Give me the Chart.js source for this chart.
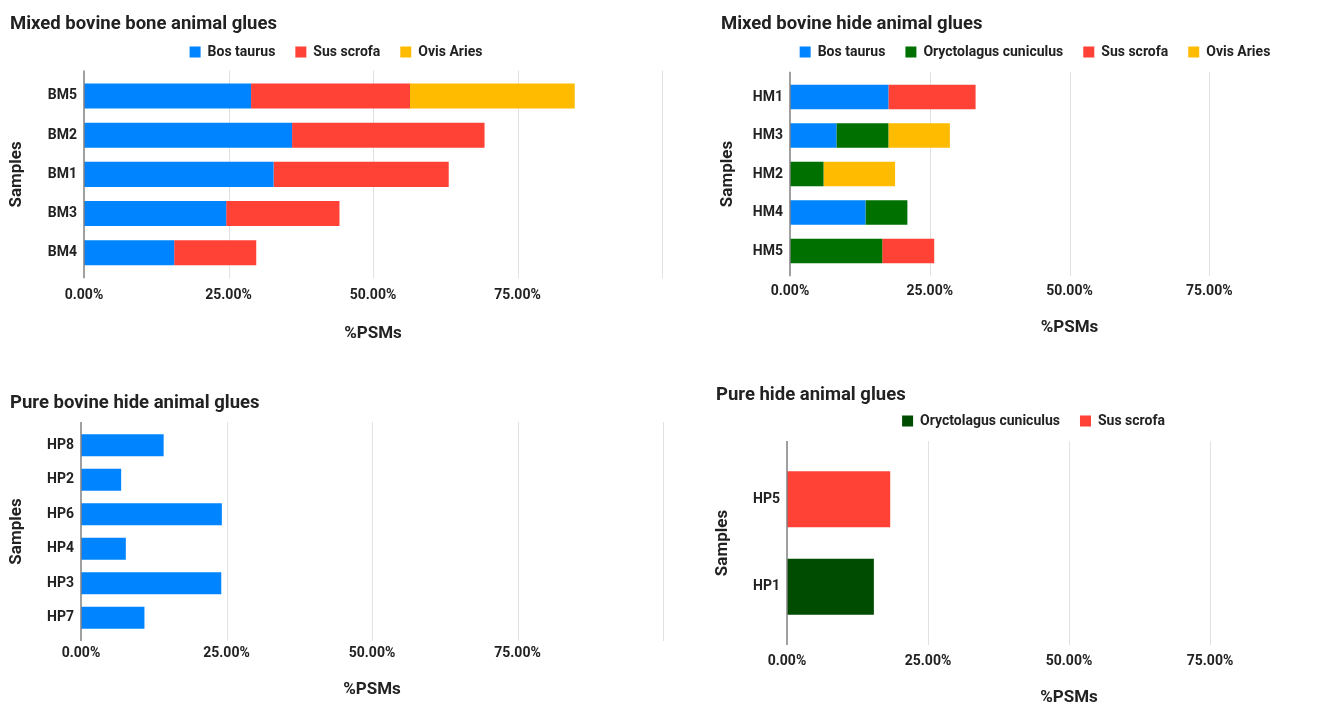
<!DOCTYPE html>
<html>
<head>
<meta charset="utf-8">
<script src="https://cdn.jsdelivr.net/npm/chart.js@4.4.1/dist/chart.umd.min.js"></script>
<style>
  html, body { margin: 0; padding: 0; background: #fff; overflow: hidden; width: 1342px; height: 702px; }
  canvas { position: absolute; }
</style>
</head>
<body>
<canvas id="bmChart" width="670" height="341" style="left:0;top:0"></canvas>
<canvas id="hmChart" width="670" height="336" style="left:700px;top:0"></canvas>
<canvas id="hpBosChart" width="670" height="318" style="left:0;top:380px"></canvas>
<canvas id="hpOtherChart" width="668" height="327" style="left:700px;top:380px"></canvas>
<script>
// %PSMs per sample
const bmSamples = ["BM5", "BM2", "BM1", "BM3", "BM4"];
const bmBosTaurus = [28.9, 36.0, 32.8, 24.6, 15.6];
const bmSusScrofa = [27.5, 33.3, 30.3, 19.6, 14.2];
const bmOvisAries = [28.5, null, null, null, null];

const hmSamples = ["HM1", "HM3", "HM2", "HM4", "HM5"];
const hmBosTaurus = [17.6, 8.3, null, 13.5, null];
const hmOryctolagus = [null, 9.3, 6.0, 7.5, 16.5];
const hmSusScrofa = [15.6, null, null, null, 9.3];
const hmOvisAries = [null, 11.0, 12.8, null, null];

const hpBosSamples = ["HP8", "HP2", "HP6", "HP4", "HP3", "HP7"];
const hpBosTaurus = [14.2, 6.9, 24.2, 7.7, 24.1, 10.9];

const hpOtherSamples = ["HP5", "HP1"];
const hpOryctolagus = [null, 15.4];
const hpSusScrofa = [18.3, null];

const xTickLabels = ["0.00%", "25.00%", "50.00%", "75.00%", ""];

const BLUE = "#0084ff", RED = "#ff4136", YELLOW = "#ffbb00", GREEN = "#007000", DARK_GREEN = "#004c00";
const FONT = "Roboto";
const TEXT = "#222";

// grid lines run a bit past the category bands, like the original
const extendedGrid = {
    id: "extendedGrid",
    beforeDatasetsDraw(chart, args, opts) {
        const { ctx, chartArea: a, scales: { x } } = chart;
        ctx.save();
        ctx.strokeStyle = "#e2e2e2";
        ctx.lineWidth = 1;
        x.ticks.forEach((t) => {
            if (t.value === 0) return;
            const px = Math.round(x.getPixelForValue(t.value)) + 0.5;
            ctx.beginPath();
            ctx.moveTo(px, a.top - opts.ext);
            ctx.lineTo(px, a.bottom + opts.ext);
            ctx.stroke();
        });
        ctx.restore();
    },
    afterDatasetsDraw(chart, args, opts) {
        const { ctx, chartArea: a, scales: { x } } = chart;
        const px = Math.round(x.getPixelForValue(0));
        ctx.save();
        ctx.strokeStyle = "#808080";
        ctx.lineWidth = 1.5;
        ctx.beginPath();
        ctx.moveTo(px, a.top - opts.ext);
        ctx.lineTo(px, a.bottom + opts.ext);
        ctx.stroke();
        ctx.restore();
    },
};

// extra room under the legend
const legendSpacer = {
    id: "legendSpacer",
    beforeLayout(chart, args, opts) {
        const legend = chart.legend;
        if (!legend || legend._spacerPatched) return;
        const fit = legend.fit;
        legend.fit = function () {
            fit.call(this);
            this.height += opts.extra || 0;
        };
        legend._spacerPatched = true;
    },
};

function makeChart(id, title, labels, datasets, g) {
    const ctx = document.getElementById(id).getContext("2d");
    return new Chart(ctx, {
        type: "bar",
        data: {
            labels: labels,
            datasets: datasets.map((d) => ({
                label: d.label,
                data: d.data,
                backgroundColor: d.color,
                borderWidth: 0,
                categoryPercentage: 0.64,
                barPercentage: 1,
            })),
        },
        options: {
            indexAxis: "y",
            responsive: false,
            animation: false,
            layout: { padding: { left: g.padL, right: g.padR, top: 0, bottom: 0 } },
            plugins: {
                title: {
                    display: true,
                    text: title,
                    align: "start",
                    color: TEXT,
                    font: { family: FONT, size: 18.5, weight: "bold" },
                    padding: { top: g.titleTop, bottom: g.titleBottom },
                },
                legend: {
                    display: g.legend,
                    position: "top",
                    labels: {
                        color: TEXT,
                        font: { family: FONT, size: 14, weight: "bold" },
                        boxWidth: 11,
                        boxHeight: 11,
                        padding: 20,
                    },
                },
                legendSpacer: { extra: g.legendExtra || 0 },
                extendedGrid: { ext: g.ext },
                tooltip: { enabled: false },
            },
            scales: {
                x: {
                    stacked: true,
                    min: 0,
                    max: 100,
                    // the hidden tick length pushes the labels down without widening the side padding
                    grid: { display: false, drawTicks: true, tickLength: g.tickGap },
                    border: { display: false },
                    ticks: {
                        stepSize: 25,
                        padding: 0,
                        color: TEXT,
                        font: { family: FONT, size: 14, weight: "bold" },
                        maxRotation: 0,
                        callback: (v, i) => xTickLabels[i],
                    },
                    title: {
                        display: true,
                        text: "%PSMs",
                        color: TEXT,
                        font: { family: FONT, size: 17, weight: "bold" },
                        padding: { top: 0, bottom: g.xTitlePad },
                    },
                    afterFit: (scale) => { scale.height = g.xH; },
                },
                y: {
                    stacked: true,
                    grid: { display: false, drawTicks: false },
                    border: { display: false },
                    ticks: {
                        padding: 7,
                        color: TEXT,
                        font: { family: FONT, size: 14, weight: "bold" },
                    },
                    title: {
                        display: true,
                        text: "Samples",
                        color: TEXT,
                        font: { family: FONT, size: 17, weight: "bold" },
                        padding: { top: -3, bottom: 0 },
                    },
                    afterFit: (scale) => { scale.width = g.yW; },
                },
            },
        },
        plugins: [extendedGrid, legendSpacer],
    });
}

document.addEventListener("DOMContentLoaded", () => {
    makeChart("bmChart", "Mixed bovine bone animal glues", bmSamples, [
        { label: "Bos taurus", data: bmBosTaurus, color: BLUE },
        { label: "Sus scrofa", data: bmSusScrofa, color: RED },
        { label: "Ovis Aries", data: bmOvisAries, color: YELLOW },
    ], { padL: 10, padR: 8, yW: 74, xH: 68.7, titleTop: 12.9, titleBottom: -10.1, legend: true, legendExtra: 7.4, tickGap: 14.3, xTitlePad: -2.6, ext: 6 });

    makeChart("hmChart", "Mixed bovine hide animal glues", hmSamples, [
        { label: "Bos taurus", data: hmBosTaurus, color: BLUE },
        { label: "Oryctolagus cuniculus", data: hmOryctolagus, color: GREEN },
        { label: "Sus scrofa", data: hmSusScrofa, color: RED },
        { label: "Ovis Aries", data: hmOvisAries, color: YELLOW },
    ], { padL: 21, padR: 21, yW: 69, xH: 65.75, titleTop: 12.9, titleBottom: -10.1, legend: true, legendExtra: 8.75, tickGap: 12.6, xTitlePad: -1.8, ext: 6 });

    makeChart("hpBosChart", "Pure bovine hide animal glues", hpBosSamples, [
        { label: "Bos taurus", data: hpBosTaurus, color: BLUE },
    ], { padL: 10, padR: 7, yW: 71, xH: 63, titleTop: 11.9, titleBottom: 13.9, legend: false, tickGap: 9.8, xTitlePad: -1.8, ext: 6 });

    makeChart("hpOtherChart", "Pure hide animal glues", hpOtherSamples, [
        { label: "Oryctolagus cuniculus", data: hpOryctolagus, color: DARK_GREEN },
        { label: "Sus scrofa", data: hpSusScrofa, color: RED },
    ], { padL: 16, padR: 17, yW: 71, xH: 76.5, titleTop: 3.9, titleBottom: -12.1, legend: true, legendExtra: 17.5, tickGap: 23, xTitlePad: -0.6, ext: 14.5 });
});
</script>
</body>
</html>
